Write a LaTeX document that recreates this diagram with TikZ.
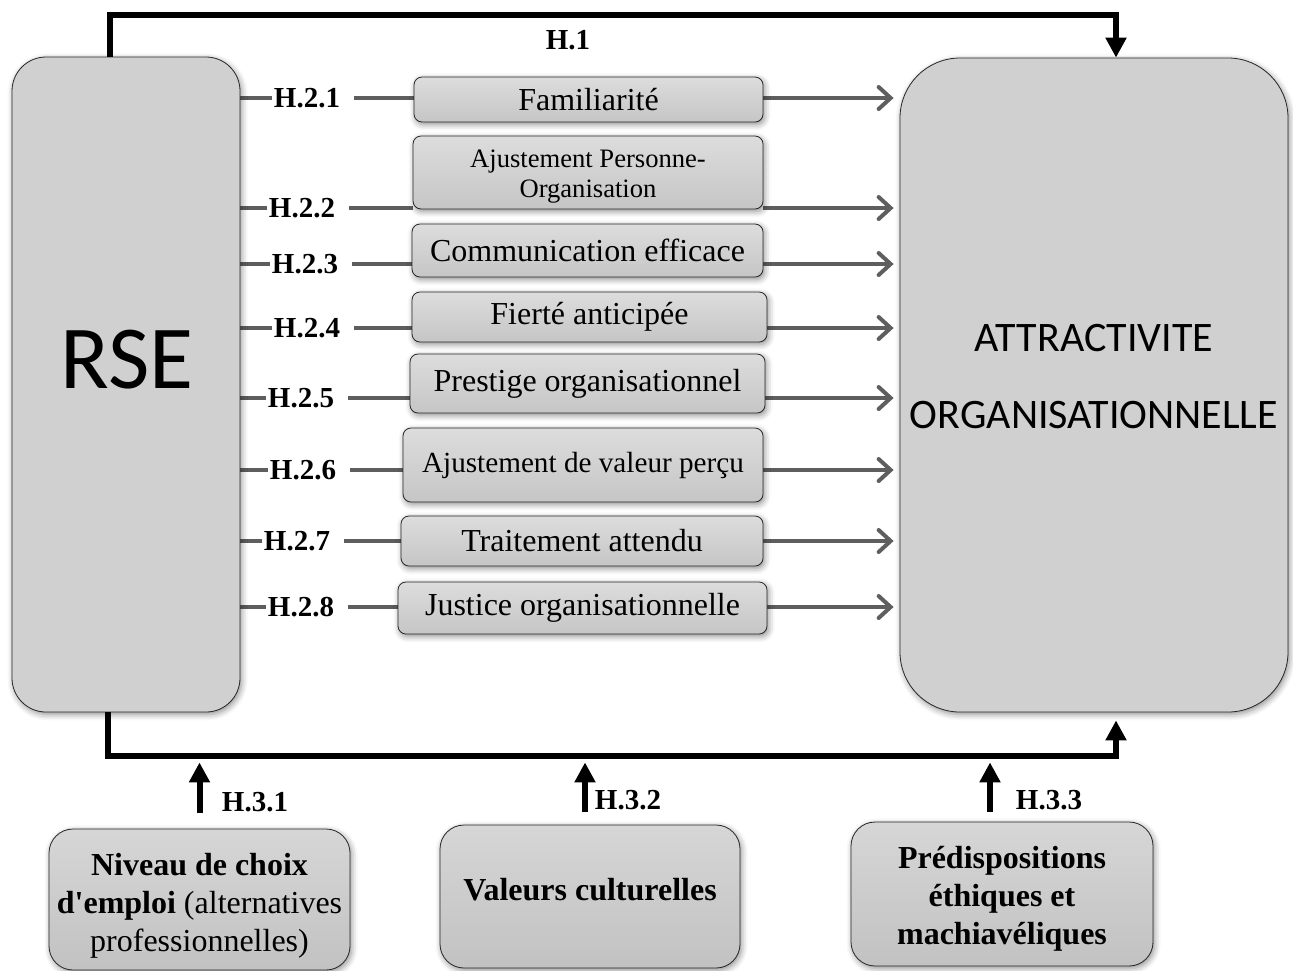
\documentclass[tikz,border=0pt]{standalone}
\usepackage{fontspec}
\setmainfont{Liberation Serif}
\newfontfamily\calibfont{Carlito}
\usetikzlibrary{arrows.meta, shadows.blur, backgrounds}

\begin{document}
\begin{tikzpicture}[x=0.5pt, y=-0.5pt]
\tikzstyle{shade}=[blur shadow={shadow xshift=0.8pt, shadow yshift=-1.2pt, shadow opacity=45, shadow blur radius=3pt}]
\tikzstyle{big}=[rectangle, draw=black!85, fill=gray!37, shade, inner sep=0pt]
\tikzstyle{mediator}=[rectangle, rounded corners=4pt, draw=black!85, top color=gray!27, bottom color=gray!45, shade, inner sep=0pt, font=\fontsize{16}{19}\selectfont]
\tikzstyle{moderator}=[rectangle, rounded corners=12pt, draw=black!85, top color=gray!32, bottom color=gray!48, shade, inner sep=0pt]
\tikzstyle{modtext}=[align=center, inner sep=0pt, font=\fontsize{16}{19}\selectfont]
\tikzstyle{hyp}=[inner sep=1pt, font=\bfseries\fontsize{14.5}{16}\selectfont]
\tikzstyle{gline}=[line width=2pt, draw=black!63]
\tikzstyle{garrow}=[gline, -{Straight Barb[length=6pt, width=11pt, line cap=round]}]
\tikzstyle{bline}=[line width=3pt, draw=black]
\tikzstyle{barrow}=[bline, -{Triangle[length=10pt, width=10pt]}]

\useasboundingbox (0,0) rectangle (1293,970);

% main constructs
\node[big, rounded corners=17pt, minimum width=114pt, minimum height=327.5pt,
      label={[xshift=0.5pt, yshift=12.5pt, font=\calibfont\fontsize{45}{50}\selectfont]center:RSE}] (rse) at (126,384.5) {};
\node[big, rounded corners=30pt, minimum width=194pt, minimum height=327pt,
      label={[yshift=4pt, align=center, font=\calibfont\fontsize{21}{38.5}\selectfont]center:ATTRACTIVITE\\ORGANISATIONNELLE}] (attr) at (1094,385) {};

% mediators
\node[mediator, minimum width=174.5pt, minimum height=22.5pt] (fam) at (588.5,99.5) {Familiarité};
\node[mediator, minimum width=175pt, minimum height=36.5pt,
      label={[yshift=-2pt, align=center, font=\fontsize{13.3}{15}\selectfont]center:Ajustement Personne-\\Organisation}] (apo) at (588,172.5) {};
\node[mediator, minimum width=175.5pt, minimum height=26.5pt] (com) at (587.5,250.5) {Communication efficace};
\node[mediator, minimum width=177.5pt, minimum height=25pt] (fie) at (589.5,317) {Fierté anticipée};
\node[mediator, minimum width=177.5pt, minimum height=29.5pt] (pre) at (587.5,383.5) {Prestige organisationnel};
\node[mediator, minimum width=180pt, minimum height=37pt, font=\fontsize{14.6}{17}\selectfont] (avp) at (583,465) {Ajustement de valeur perçu};
\node[mediator, minimum width=181pt, minimum height=25pt] (tra) at (582,541) {Traitement attendu};
\node[mediator, minimum width=184.5pt, minimum height=26pt] (jus) at (582.5,608) {Justice organisationnelle};

% moderators
\node[moderator, minimum width=150.5pt, minimum height=70.5pt,
      label={[modtext, yshift=-3pt]center:\textbf{Niveau de choix}\\\textbf{d\textquotesingle emploi} (alternatives\\professionnelles)}] (niv) at (199.5,899.5) {};
\node[moderator, minimum width=150pt, minimum height=71.5pt,
      label={[modtext, yshift=3.5pt]center:\textbf{Valeurs culturelles}}] (val) at (590,896.5) {};
\node[moderator, minimum width=151pt, minimum height=72pt,
      label={[modtext, yshift=-2.5pt, font=\bfseries\fontsize{16}{19}\selectfont]center:Prédispositions\\éthiques et\\machiavéliques}] (pdm) at (1002,894) {};

% hypotheses
\node[hyp] (h1) at (568,40) {H.1};
\node[hyp] (h21) at (307,98) {H.2.1};
\node[hyp] (h22) at (302,208) {H.2.2};
\node[hyp] (h23) at (305,264) {H.2.3};
\node[hyp] (h24) at (307,328) {H.2.4};
\node[hyp] (h25) at (301,398) {H.2.5};
\node[hyp] (h26) at (303,470) {H.2.6};
\node[hyp] (h27) at (297,541) {H.2.7};
\node[hyp] (h28) at (301,607) {H.2.8};
\node[hyp] (h31) at (255,802) {H.3.1};
\node[hyp] (h32) at (628,800) {H.3.2};
\node[hyp] (h33) at (1049,800) {H.3.3};

\begin{scope}[on background layer]
\foreach \h/\m in {h21/fam, h22/apo, h23/com, h24/fie, h25/pre, h26/avp, h27/tra, h28/jus} {
    \draw[gline] (rse.east |- \h) -- (\h.west);
    \draw[gline, shorten <=6pt] (\h.east) -- (\h -| \m.west);
    \draw[garrow, shorten >=3pt] (\m.east |- \h) -- (attr.west |- \h);
}
\end{scope}

% direct and moderated links
\draw[barrow] ([xshift=-8pt]rse.north) -- ++(0,-42) -| ([xshift=11pt]attr.north);
\draw[barrow, shorten >=4pt] ([xshift=-9pt]rse.south) -- ++(0,44) coordinate (bl) -| ([xshift=11pt]attr.south);
\draw[barrow, shorten <=8pt, shorten >=3pt] (niv.north) -- (niv.north |- bl);
\draw[barrow, shorten <=6.5pt, shorten >=3pt] ([xshift=-2.5pt]val.north) -- ([xshift=-2.5pt]val.north |- bl);
\draw[barrow, shorten <=5pt, shorten >=3pt] ([xshift=-6pt]pdm.north) -- ([xshift=-6pt]pdm.north |- bl);
\end{tikzpicture}
\end{document}
